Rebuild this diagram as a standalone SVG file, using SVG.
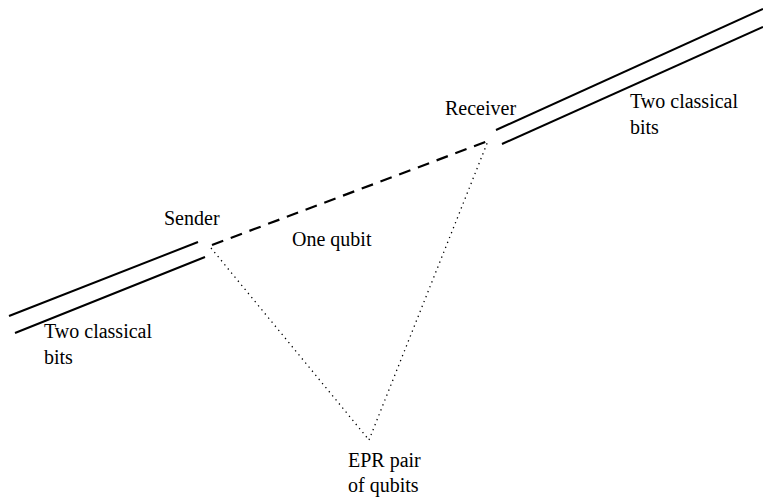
<svg xmlns="http://www.w3.org/2000/svg" width="763" height="498" viewBox="0 0 763 498">
<style>
text{font-family:"Liberation Serif","Times New Roman",serif;font-size:20px;fill:#000}
.s{stroke:#000;stroke-width:2;fill:none}
.d{stroke:#000;stroke-width:2.2;fill:none;stroke-dasharray:12 8}
.o{stroke:#000;stroke-width:1.3;fill:none;stroke-dasharray:1.3 4}
</style>
<rect width="763" height="498" fill="#fff"/>
<g id="connectors">
<line class="s" x1="9" y1="316" x2="198" y2="242"/>
<line class="s" x1="15" y1="333" x2="205" y2="257"/>
<line class="s" x1="496" y1="130" x2="763" y2="9"/>
<line class="s" x1="502" y1="144" x2="763" y2="27"/>
<line class="d" x1="212" y1="245" x2="488" y2="141"/>
<line class="o" x1="211" y1="248" x2="369" y2="440"/>
<line class="o" x1="369" y1="440" x2="488" y2="141"/>
</g>
<g id="sender"><text x="164" y="225">Sender</text></g>
<g id="receiver"><text x="445" y="115">Receiver</text></g>
<g id="qubit"><text x="292" y="246">One qubit</text></g>
<g id="epr"><text x="348" y="467">EPR pair</text><text x="348" y="492">of qubits</text></g>
<g id="bits-left"><text x="44" y="338">Two classical</text><text x="44" y="364">bits</text></g>
<g id="bits-right"><text x="630" y="108">Two classical</text><text x="630" y="134">bits</text></g>
</svg>
